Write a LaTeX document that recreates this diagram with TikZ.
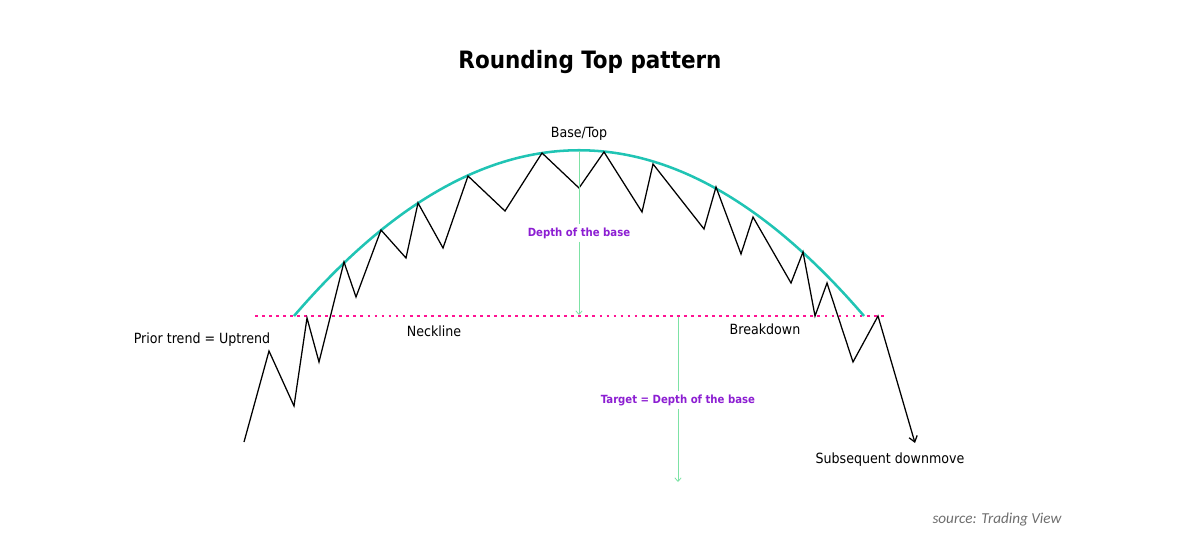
\documentclass[tikz,border=0pt]{standalone}
\usepackage{fontspec}
\setmainfont{DejaVu Sans Condensed}
\newfontfamily\srcfont{Carlito}
\usetikzlibrary{arrows.meta}

\definecolor{arcteal}{RGB}{32,196,180}
\definecolor{neckpink}{RGB}{255,20,147}
\definecolor{mint}{RGB}{125,226,165}
\definecolor{depthpurple}{RGB}{140,30,210}
\definecolor{srcgray}{RGB}{110,110,110}

\tikzset{
  label text/.style={font=\fontsize{10}{12}\selectfont, inner sep=1pt},
  depth text/.style={font=\bfseries\fontsize{8}{10}\selectfont, text=depthpurple, inner sep=2pt},
  price/.style={line width=0.9pt, black},
  neckline/.style={neckpink, line width=2pt, dash pattern=on 2pt off 3pt},
  rounded top/.style={arcteal, line width=1.8pt},
  depth arrow/.style={mint, line width=0.6pt}
}

\begin{document}
\begin{tikzpicture}[x=0.025cm, y=-0.025cm]
\useasboundingbox (0,0) rectangle (1200,559);

\node[font=\bfseries\fontsize{17}{20}\selectfont] (title) at (590,62) {Rounding Top pattern};

% neckline
\coordinate (neckL) at (255,316);
\coordinate (neckR) at (886,316);
\draw[neckline] (neckL) -- (neckR);

% the rounded top
\coordinate (arcL) at (294,316);
\coordinate (arcR) at (864,316);
\draw[rounded top] (arcL) .. controls (484,95) and (674,95) .. (arcR);

% price path
\coordinate (start) at (244,442);
\coordinate (downEnd) at (915,443);
\draw[price, -{Straight Barb[length=4pt,width=6pt]}] (start) -- (269,351) -- (294,406) -- (307,318) -- (319,362)
  -- (344,262) -- (356,297) -- (381,230) -- (406,258) -- (418,203) -- (443,248)
  -- (468,176) -- (505,211) -- (542,153) -- (579,188) -- (604,152) -- (642,212)
  -- (653,164) -- (704,229) -- (716,187) -- (741,254) -- (753,217) -- (791,283)
  -- (803,252) -- (815,316) -- (827,283) -- (853,362) -- (878,316) -- (downEnd);

% depth of the base
\coordinate (topPt) at (579,151);
\coordinate (neckPt) at (579,315);
\node[depth text] (depth) at (579,233) {Depth of the base};
\draw[depth arrow] (topPt) -- (depth.north);
\draw[depth arrow, -{Straight Barb[length=2.5pt,width=4.5pt]}] (depth.south) -- (neckPt);

% target
\coordinate (tgtTop) at (678,317);
\coordinate (tgtEnd) at (678,482);
\node[depth text] (target) at (678,400) {Target = Depth of the base};
\draw[depth arrow] (tgtTop) -- (target.north);
\draw[depth arrow, -{Straight Barb[length=2.5pt,width=4.5pt]}] (target.south) -- (tgtEnd);

% labels
\node[label text] (basetop) at (579,134) {Base/Top};
\node[label text] (prior) at (202,340) {Prior trend = Uptrend};
\node[label text] (neck) at (434,331) {Neckline};
\node[label text] (breakdown) at (765,329) {Breakdown};
\node[label text] (subsequent) at (890,460) {Subsequent downmove};
\node[font=\srcfont\itshape\fontsize{10.8}{12}\selectfont, text=srcgray] (source) at (997,520) {source: Trading View};
\end{tikzpicture}
\end{document}
